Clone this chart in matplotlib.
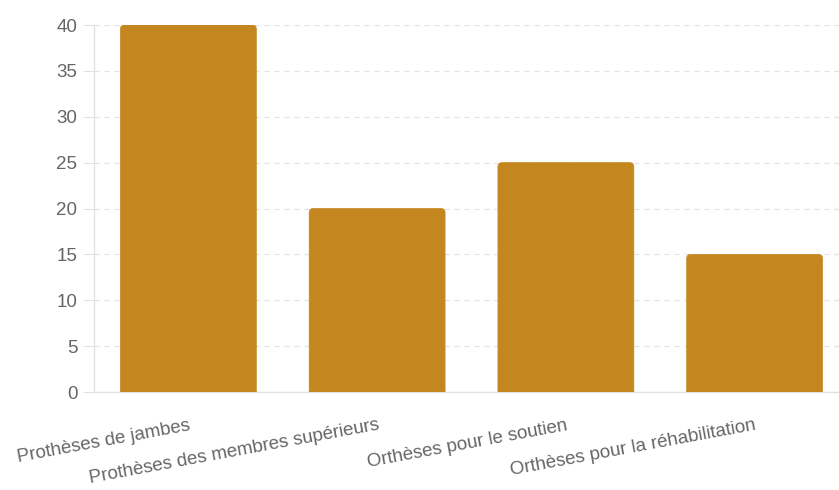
import matplotlib.pyplot as plt
from matplotlib.patches import FancyBboxPatch

categories = ["Prothèses de jambes", "Prothèses des membres supérieurs",
              "Orthèses pour le soutien", "Orthèses pour la réhabilitation"]
values = [40, 20, 25, 15]
yticks = [0, 5, 10, 15, 20, 25, 30, 35, 40]

plt.rcParams['font.family'] = ['Liberation Sans', 'DejaVu Sans']

fig = plt.figure(figsize=(8.39, 4.90), dpi=100)
# plot area runs a bit past the right edge of the picture
ax = fig.add_axes([94 / 839, 1 - 392 / 490, (849 - 94) / 839, 367 / 490])

bar_color = "#c4871f"
width = 0.72
# rounded top corners, bottom corners hidden below the axis
r = 0.022
aspect = (40 / 367) / (1 / 188.7)
for i, v in enumerate(values):
    patch = FancyBboxPatch((i - width / 2, -1), width, v + 1,
                           boxstyle="round,pad=0,rounding_size=%g" % r,
                           mutation_aspect=aspect,
                           facecolor=bar_color, edgecolor=bar_color, lw=0.5,
                           zorder=3)
    ax.add_patch(patch)

ax.set_xlim(-0.5, len(categories) - 0.5)
ax.set_ylim(0, 40)
ax.set_yticks(yticks)
ax.set_xticks(range(len(categories)))
ax.set_xticklabels(categories, rotation=10.5, ha='right', va='top',
                   rotation_mode='anchor')

ax.grid(axis='y', color='#e2e2e2', linestyle=(0, (4, 4)), linewidth=0.9, zorder=0)
for s in ['top', 'right']:
    ax.spines[s].set_visible(False)
for s in ['left', 'bottom']:
    ax.spines[s].set_color('#e2e2e2')
    ax.spines[s].set_linewidth(1)

ax.tick_params(axis='y', length=8, color='#e2e2e2', labelcolor='#666666',
               labelsize=13.5, pad=4)
ax.tick_params(axis='x', length=0, labelcolor='#666666', labelsize=13.5, pad=18)

fig.savefig("out.png", dpi=100)
